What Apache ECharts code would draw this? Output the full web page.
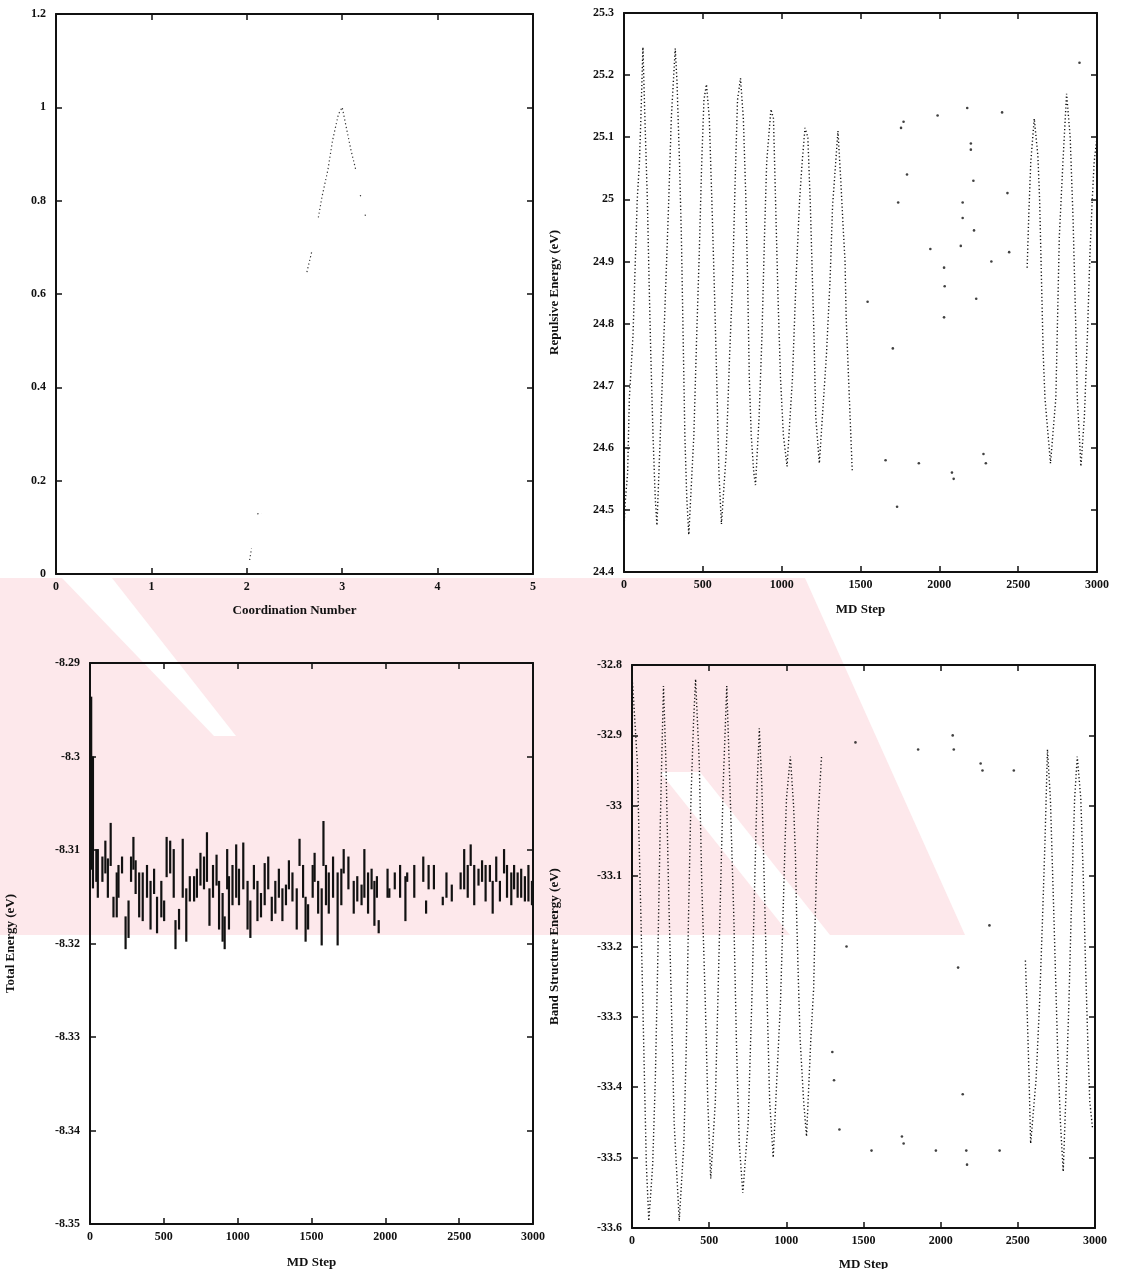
<!DOCTYPE html>
<html><head><meta charset="utf-8">
<script src="https://cdn.jsdelivr.net/npm/echarts@6/dist/echarts.min.js"></script>
<style>html,body{margin:0;padding:0;background:#fff}#c{width:1125px;height:1269px}</style>
</head><body><div id="c"></div>
<script>
// ---------- Plot 1: coordination number ----------
const coordX = [2.03, 2.05, null, 2.11, 2.15, null, 2.63, 2.68, null, 2.75, 2.79, 2.85, 2.9, 2.96, 3.0, 3.04, 3.09, 3.14, null, 3.19, 3.2, null, 3.24, 3.25];
const coordY = [0.03, 0.055, null, 0.129, 0.13, null, 0.647, 0.69, null, 0.764, 0.81, 0.866, 0.93, 0.985, 1.0, 0.96, 0.91, 0.868, null, 0.812, 0.805, null, 0.77, 0.764];

// ---------- Plot 2: repulsive energy ----------
const repStepsA = [0,7,23,34,57,68,84,98,107,120,132,148,159,170,184,198,209,239,266,284,300,325,336,352,364,375,386,398,411,443,461,477,493,507,523,541,557,575,591,602,618,648,670,689,705,720,739,757,773,784,795,807,823,834,857,875,891,905,932,948,961,977,993,1011,1034,1068,1091,1114,1130,1148,1166,1182,1193,1205,1216,1239,1284,1307,1323,1357,1375,1391,1402,1409,1448];
const repValsA = [24.47,24.51,24.56,24.68,24.78,24.87,25.0,25.06,25.13,25.245,25.135,25.0,24.87,24.75,24.62,24.52,24.475,24.68,24.87,25.0,25.13,25.243,25.19,25.06,24.94,24.78,24.62,24.52,24.46,24.62,24.78,24.91,25.06,25.16,25.185,25.13,25.0,24.84,24.68,24.56,24.477,24.59,24.75,24.87,25.03,25.16,25.195,25.13,25.0,24.87,24.71,24.62,24.56,24.54,24.65,24.78,24.94,25.06,25.145,25.13,25.0,24.84,24.71,24.62,24.57,24.71,24.87,25.0,25.06,25.115,25.1,24.99,24.89,24.78,24.65,24.575,24.75,24.87,24.99,25.11,25.03,24.95,24.9,24.81,24.56];
const repStepsB = [2557,2568,2580,2602,2625,2636,2648,2659,2670,2705,2739,2750,2761,2784,2807,2830,2848,2864,2875,2898,2920,2939,2955,2970,2982,3000];
const repValsB = [24.89,24.98,25.06,25.13,25.07,25.0,24.87,24.75,24.68,24.575,24.68,24.81,24.94,25.06,25.17,25.1,24.97,24.81,24.68,24.57,24.65,24.78,24.91,25.0,25.06,25.1];
const repMidSteps = [1545,1659,1705,1732,1739,1757,1773,1795,1870,1943,1989,2030,2030,2034,2080,2091,2136,2148,2148,2177,2200,2200,2216,2220,2234,2280,2295,2330,2398,2432,2443,2889];
const repMidVals = [24.835,24.58,24.76,24.505,24.995,25.115,25.125,25.04,24.575,24.92,25.135,24.81,24.89,24.86,24.56,24.55,24.925,24.995,24.97,25.147,25.09,25.08,25.03,24.95,24.84,24.59,24.575,24.9,25.14,25.01,24.915,25.22];

// ---------- Plot 3: total energy (vertical runs: step, high, low) ----------
const totalSteps = [8,20,43,53,84,104,121,140,159,181,193,217,241,261,278,294,309,333,357,386,410,434,454,483,502,519,543,567,579,603,628,652,676,705,724,748,772,792,809,833,857,874,898,912,929,941,965,990,1009,1038,1067,1086,1110,1134,1158,1183,1207,1231,1255,1279,1303,1327,1347,1371,1400,1419,1443,1460,1477,1508,1521,1545,1569,1581,1598,1617,1646,1677,1702,1718,1750,1786,1810,1839,1858,1883,1907,1926,1943,1955,2015,2027,2064,2100,2136,2148,2196,2257,2276,2293,2329,2389,2414,2450,2510,2534,2558,2578,2602,2631,2655,2679,2708,2727,2751,2776,2804,2824,2853,2872,2896,2920,2945,2969,2993];
const totalHigh = [-8.2936,-8.3000,-8.3099,-8.3099,-8.3107,-8.3090,-8.3109,-8.3071,-8.3150,-8.3124,-8.3116,-8.3107,-8.3171,-8.3154,-8.3107,-8.3086,-8.3111,-8.3124,-8.3124,-8.3116,-8.3133,-8.3120,-8.3150,-8.3133,-8.3154,-8.3086,-8.3090,-8.3099,-8.3175,-8.3163,-8.3088,-8.3141,-8.3128,-8.3128,-8.3120,-8.3103,-8.3107,-8.3081,-8.3141,-8.3116,-8.3105,-8.3133,-8.3146,-8.3171,-8.3099,-8.3128,-8.3116,-8.3094,-8.3120,-8.3092,-8.3133,-8.3154,-8.3116,-8.3133,-8.3146,-8.3114,-8.3107,-8.3150,-8.3133,-8.3120,-8.3141,-8.3137,-8.3111,-8.3124,-8.3141,-8.3088,-8.3116,-8.3150,-8.3158,-8.3116,-8.3103,-8.3133,-8.3141,-8.3069,-8.3116,-8.3124,-8.3107,-8.3124,-8.3120,-8.3099,-8.3107,-8.3133,-8.3128,-8.3137,-8.3099,-8.3124,-8.3120,-8.3133,-8.3128,-8.3175,-8.3120,-8.3141,-8.3124,-8.3116,-8.3128,-8.3124,-8.3116,-8.3107,-8.3154,-8.3116,-8.3116,-8.3150,-8.3124,-8.3137,-8.3124,-8.3099,-8.3116,-8.3094,-8.3116,-8.3120,-8.3111,-8.3116,-8.3116,-8.3133,-8.3107,-8.3133,-8.3099,-8.3116,-8.3124,-8.3116,-8.3124,-8.3120,-8.3128,-8.3116,-8.3133];
const totalLow = [-8.3120,-8.3140,-8.3133,-8.3150,-8.3133,-8.3124,-8.3150,-8.3116,-8.3171,-8.3171,-8.3150,-8.3124,-8.3205,-8.3193,-8.3133,-8.3120,-8.3146,-8.3171,-8.3175,-8.3150,-8.3184,-8.3146,-8.3188,-8.3171,-8.3175,-8.3128,-8.3124,-8.3150,-8.3205,-8.3184,-8.3150,-8.3197,-8.3154,-8.3154,-8.3150,-8.3137,-8.3141,-8.3133,-8.3180,-8.3150,-8.3137,-8.3184,-8.3197,-8.3205,-8.3141,-8.3184,-8.3158,-8.3150,-8.3158,-8.3141,-8.3184,-8.3193,-8.3141,-8.3175,-8.3171,-8.3158,-8.3141,-8.3175,-8.3167,-8.3150,-8.3175,-8.3158,-8.3141,-8.3154,-8.3184,-8.3116,-8.3150,-8.3197,-8.3184,-8.3150,-8.3133,-8.3167,-8.3201,-8.3116,-8.3158,-8.3167,-8.3150,-8.3201,-8.3158,-8.3124,-8.3141,-8.3167,-8.3154,-8.3158,-8.3150,-8.3167,-8.3141,-8.3180,-8.3150,-8.3188,-8.3150,-8.3150,-8.3141,-8.3150,-8.3175,-8.3133,-8.3150,-8.3133,-8.3167,-8.3141,-8.3141,-8.3158,-8.3150,-8.3154,-8.3141,-8.3141,-8.3150,-8.3116,-8.3158,-8.3137,-8.3133,-8.3154,-8.3133,-8.3167,-8.3133,-8.3154,-8.3124,-8.3150,-8.3158,-8.3141,-8.3150,-8.3150,-8.3154,-8.3154,-8.3158];

// ---------- Plot 4: band structure energy ----------
const bandStepsA = [0,5,35,46,58,70,81,93,109,134,151,167,181,192,204,220,236,255,273,306,336,352,366,382,399,412,436,452,475,491,510,540,556,575,591,614,637,660,677,695,718,753,776,795,811,825,841,857,876,892,915,938,962,978,992,1001,1026,1047,1059,1066,1077,1089,1112,1131,1159,1177,1186,1205,1228];
const bandValsA = [-32.82,-32.83,-32.94,-33.05,-33.16,-33.28,-33.39,-33.51,-33.59,-33.51,-33.39,-33.22,-33.05,-32.94,-32.83,-32.94,-33.11,-33.28,-33.45,-33.59,-33.48,-33.34,-33.16,-32.99,-32.88,-32.82,-32.94,-33.11,-33.28,-33.42,-33.53,-33.42,-33.28,-33.11,-32.97,-32.83,-32.99,-33.16,-33.34,-33.48,-33.55,-33.45,-33.28,-33.11,-32.97,-32.89,-32.97,-33.11,-33.28,-33.42,-33.5,-33.39,-33.28,-33.16,-33.05,-32.99,-32.93,-33.0,-33.07,-33.15,-33.24,-33.33,-33.42,-33.47,-33.33,-33.26,-33.17,-33.02,-32.93];
const bandStepsB = [2549,2560,2572,2583,2618,2641,2660,2676,2692,2711,2734,2757,2776,2794,2815,2831,2845,2868,2885,2908,2924,2938,2954,2966,2985];
const bandValsB = [-33.22,-33.29,-33.38,-33.48,-33.39,-33.28,-33.16,-33.05,-32.92,-32.99,-33.16,-33.34,-33.45,-33.52,-33.39,-33.28,-33.16,-32.99,-32.93,-32.99,-33.1,-33.22,-33.34,-33.42,-33.46];
const bandMidSteps = [1298,1309,1344,1390,1448,1552,1749,1760,1854,1969,2078,2085,2113,2143,2166,2171,2259,2271,2316,2382,2474];
const bandMidVals = [-33.35,-33.39,-33.46,-33.2,-32.91,-33.49,-33.47,-33.48,-32.92,-33.49,-32.9,-32.92,-33.23,-33.41,-33.49,-33.51,-32.94,-32.95,-33.17,-33.49,-32.95];

// ---------- helpers ----------
const pair = (xs, ys) => xs.map((x, i) => (x === null ? ['-', '-'] : [x, ys[i]]));
const FONT = 'Liberation Serif';
const INK = '#111';
const grids = [
  {left: 56, top: 14, width: 477, height: 560},
  {left: 624, top: 13, width: 473, height: 559},
  {left: 90, top: 663, width: 443, height: 561},
  {left: 632, top: 665, width: 463, height: 563}
];
const lbl = {fontFamily: FONT, fontWeight: 'bold', fontSize: 12, color: INK, formatter: v => String(v)};
const nameStyle = {fontFamily: FONT, fontWeight: 'bold', fontSize: 13, color: INK};
function axBase(gi, min, max, interval) {
  return {gridIndex: gi, type: 'value', min, max, interval,
    axisLine: {show: true, onZero: false, lineStyle: {color: INK, width: 2}},
    axisTick: {show: true, inside: true, length: 6, lineStyle: {color: INK, width: 1.5}},
    splitLine: {show: false}};
}
function xPair(gi, min, max, interval, name, gap) {
  const base = axBase(gi, min, max, interval);
  return [
    Object.assign({}, base, {position: 'bottom', axisLabel: Object.assign({margin: 7}, lbl),
      name, nameLocation: 'middle', nameGap: gap, nameTextStyle: nameStyle}),
    Object.assign({}, base, {position: 'top', axisLabel: {show: false}})
  ];
}
function yPair(gi, min, max, interval, name, gap) {
  const base = axBase(gi, min, max, interval);
  return [
    Object.assign({}, base, {position: 'left', axisLabel: Object.assign({margin: 10}, lbl),
      name, nameLocation: 'middle', nameGap: gap, nameRotate: 90, nameTextStyle: nameStyle}),
    Object.assign({}, base, {position: 'right', axisLabel: {show: false}})
  ];
}
const xAxis = [].concat(
  xPair(0, 0, 5, 1, 'Coordination Number', 30),
  xPair(1, 0, 3000, 500, 'MD Step', 31),
  xPair(2, 0, 3000, 500, 'MD Step', 32),
  xPair(3, 0, 3000, 500, 'MD Step', 30)
);
const yAxis = [].concat(
  yPair(0, 0, 1.2, 0.2, '', 40),
  yPair(1, 24.4, 25.3, 0.1, 'Repulsive Energy (eV)', 63),
  yPair(2, -8.35, -8.29, 0.01, 'Total Energy (eV)', 73),
  yPair(3, -33.6, -32.8, 0.1, 'Band Structure Energy (eV)', 71)
);
const dots = {color: INK, width: 1.4, type: [1.2, 2.4]};
const series = [
  {type: 'line', xAxisIndex: 0, yAxisIndex: 0, data: pair(coordX, coordY), showSymbol: false, symbol: 'none',
    connectNulls: false, lineStyle: {color: '#333', width: 1.2, type: [1.2, 2.6]}},
  {type: 'line', xAxisIndex: 2, yAxisIndex: 2, data: pair(repStepsA, repValsA), symbol: 'none', lineStyle: dots},
  {type: 'line', xAxisIndex: 2, yAxisIndex: 2, data: pair(repStepsB, repValsB), symbol: 'none', lineStyle: dots},
  {type: 'scatter', xAxisIndex: 2, yAxisIndex: 2, data: pair(repMidSteps, repMidVals), symbolSize: 2.6, itemStyle: {color: INK}},
  {type: 'custom', xAxisIndex: 4, yAxisIndex: 4,
    data: totalSteps.map((s, i) => [s, totalHigh[i], totalLow[i]]),
    encode: {x: 0, y: [1, 2]},
    renderItem: function (params, api) {
      const p1 = api.coord([api.value(0), api.value(1)]);
      const p2 = api.coord([api.value(0), api.value(2)]);
      return {type: 'line', shape: {x1: p1[0], y1: p1[1], x2: p2[0], y2: p2[1] + 1},
        style: {stroke: INK, lineWidth: 2.2}};
    }},
  {type: 'line', xAxisIndex: 6, yAxisIndex: 6, data: pair(bandStepsA, bandValsA), symbol: 'none', lineStyle: dots},
  {type: 'line', xAxisIndex: 6, yAxisIndex: 6, data: pair(bandStepsB, bandValsB), symbol: 'none', lineStyle: dots},
  {type: 'scatter', xAxisIndex: 6, yAxisIndex: 6, data: pair(bandMidSteps, bandMidVals), symbolSize: 2.6, itemStyle: {color: INK}}
];
// faint page watermark behind the plots (decoration of the scanned page)
const PINK = '#fde8eb';
const graphic = [
  {type: 'polygon', z: -10, silent: true, shape: {points: [[0, 578], [805, 578], [965, 935], [0, 935]]}, style: {fill: PINK}},
  {type: 'polygon', z: -9, silent: true, shape: {points: [[62, 578], [112, 578], [236, 736], [214, 736]]}, style: {fill: '#fff'}},
  {type: 'polygon', z: -9, silent: true, shape: {points: [[660, 772], [700, 772], [830, 935], [790, 935]]}, style: {fill: '#fff'}}
];
const chart = echarts.init(document.getElementById('c'));
chart.setOption({
  backgroundColor: '#fff',
  animation: false,
  grid: grids.map(g => Object.assign({containLabel: false, outerBoundsMode: 'none'}, g)),
  graphic, xAxis, yAxis, series
});
</script></body></html>
